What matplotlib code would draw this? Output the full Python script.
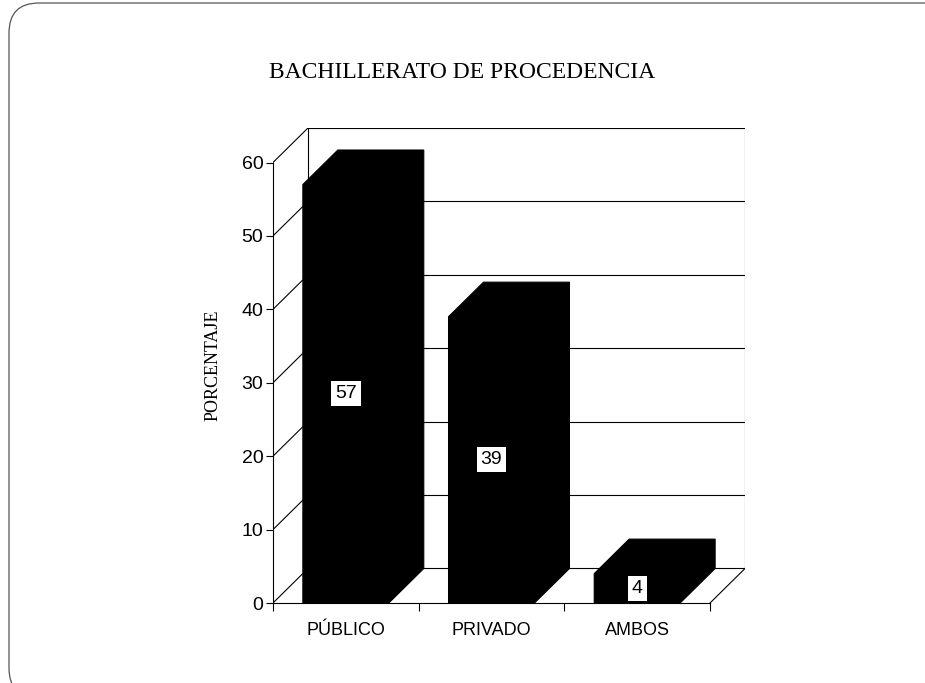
import matplotlib
matplotlib.use("Agg")
import matplotlib.pyplot as plt
from matplotlib.patches import Polygon, FancyBboxPatch
from matplotlib.transforms import IdentityTransform

# data
categories = ["PÚBLICO", "PRIVADO", "AMBOS"]
values = [57, 39, 4]
yticks = [0, 10, 20, 30, 40, 50, 60]
title = "BACHILLERATO DE PROCEDENCIA"
ylabel = "PORCENTAJE"

# fake 3d depth (in data units)
DX = 0.24
DY = 4.7
BAR_W = 0.59
YMAX = 60

sans = ["Liberation Sans", "DejaVu Sans"]
serif = ["Liberation Serif", "DejaVu Serif"]

fig = plt.figure(figsize=(9.25, 6.83), dpi=100)
ax = fig.add_axes([273 / 925, 80 / 683, 472 / 925, 475 / 683])
n = len(categories)
ax.set_xlim(0, n + DX)
ax.set_ylim(0, YMAX + DY)

# back wall and grid
for v in yticks:
    ax.plot([DX, n + DX], [v + DY, v + DY], color="black", lw=0.8, zorder=1)
    ax.plot([0, DX], [v, v + DY], color="black", lw=0.8, zorder=1)
ax.plot([DX, DX], [DY, YMAX + DY], color="black", lw=0.8, zorder=1)
ax.plot([n + DX, n + DX], [DY, YMAX + DY], color="black", lw=0.8, zorder=1)
ax.plot([n, n + DX], [0, DY], color="black", lw=0.8, zorder=1)

# bars with side + top faces
for i, v in enumerate(values):
    x0 = i + 0.5 - BAR_W / 2
    x1 = i + 0.5 + BAR_W / 2
    pts = [(x0, 0), (x0, v), (x0 + DX, v + DY), (x1 + DX, v + DY),
           (x1 + DX, DY), (x1, 0)]
    ax.add_patch(Polygon(pts, closed=True, facecolor="black",
                         edgecolor="black", lw=0.8, zorder=2))
    ax.text(i + 0.5, v / 2, str(v), ha="center", va="center", fontsize=14,
            family=sans, zorder=3,
            bbox=dict(facecolor="white", edgecolor="none", pad=3))

# axes styling
for s in ["top", "right"]:
    ax.spines[s].set_visible(False)
ax.spines["left"].set_bounds(0, YMAX)
ax.spines["bottom"].set_bounds(0, n)
ax.spines["left"].set_linewidth(0.8)
ax.spines["bottom"].set_linewidth(0.8)
ax.spines["left"].set_zorder(4)
ax.spines["bottom"].set_zorder(4)

ax.set_yticks(yticks)
ax.set_yticklabels([str(t) for t in yticks], family=sans, fontsize=14)
ax.tick_params(axis="y", direction="out", length=5, width=0.8, pad=2)

ax.set_xticks(range(n + 1))
ax.set_xticklabels([""] * (n + 1))
ax.set_xticks([i + 0.5 for i in range(n)], minor=True)
ax.set_xticklabels(categories, minor=True, family=sans, fontsize=13)
ax.tick_params(axis="x", which="major", direction="out", length=6, width=0.8)
ax.tick_params(axis="x", which="minor", length=0, pad=14)

ax.set_ylabel(ylabel, family=serif, fontsize=13, labelpad=14)
fig.text(462 / 925, 1 - 73 / 683, title, ha="center", va="center",
         family=serif, fontsize=17)

# rounded frame of the scanned page (runs off right and bottom)
frame = FancyBboxPatch((9, -15), 960, 695,
                       boxstyle="round,pad=0,rounding_size=30",
                       transform=IdentityTransform(), fill=False,
                       edgecolor="#555555", lw=0.9)
fig.patches.append(frame)

fig.savefig("out.png", dpi=100)
